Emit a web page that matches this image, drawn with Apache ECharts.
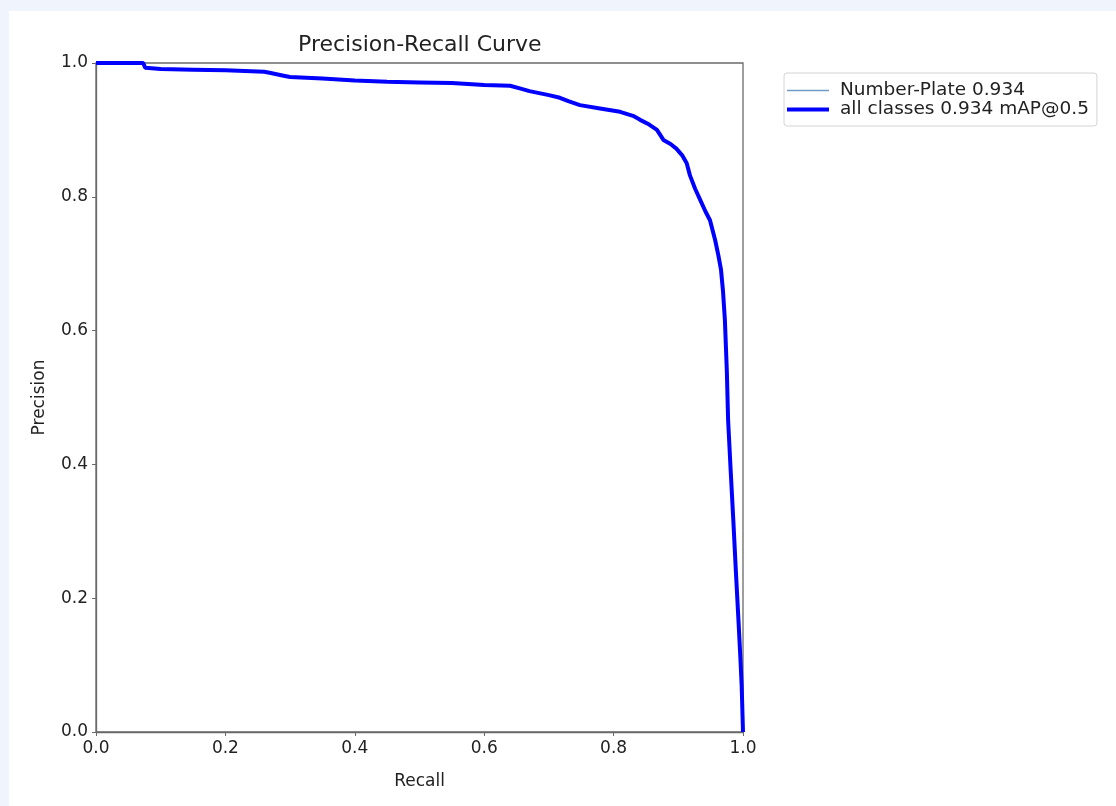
<!DOCTYPE html>
<html>
<head>
<meta charset="utf-8">
<script src="https://cdn.jsdelivr.net/npm/echarts@6/dist/echarts.min.js"></script>
<style>
html,body{margin:0;padding:0;background:#f0f4fd;width:1116px;height:806px;overflow:hidden;}
#c{position:absolute;left:9px;top:11px;width:1107px;height:795px;background:#ffffff;}
</style>
</head>
<body>
<div id="c"></div>
<script>
const titleText = 'Precision-Recall Curve';
const xName = 'Recall';
const yName = 'Precision';
const seriesNames = ['Number-Plate 0.934', 'all classes 0.934 mAP@0.5'];
const recall = [0, 0.073, 0.076, 0.1, 0.15, 0.2, 0.26, 0.27, 0.29, 0.3, 0.35, 0.4, 0.45, 0.5, 0.55, 0.6, 0.64, 0.655, 0.67, 0.70, 0.717, 0.73, 0.748, 0.779, 0.81, 0.83, 0.841, 0.855, 0.867, 0.877, 0.888, 0.897, 0.906, 0.913, 0.918, 0.926, 0.934, 0.942, 0.949, 0.957, 0.962, 0.966, 0.969, 0.972, 0.975, 0.977, 0.981, 0.985, 0.989, 0.993, 0.996, 0.998, 1.0];
const precision = [1.0, 1.0, 0.993, 0.991, 0.990, 0.989, 0.987, 0.985, 0.981, 0.979, 0.977, 0.974, 0.972, 0.971, 0.970, 0.967, 0.966, 0.962, 0.958, 0.952, 0.948, 0.943, 0.937, 0.932, 0.927, 0.921, 0.915, 0.908, 0.900, 0.885, 0.879, 0.872, 0.862, 0.850, 0.832, 0.812, 0.795, 0.778, 0.765, 0.735, 0.712, 0.691, 0.660, 0.616, 0.540, 0.466, 0.390, 0.317, 0.240, 0.167, 0.110, 0.068, 0.0];
const tickValues = [0, 0.2, 0.4, 0.6, 0.8, 1.0];

const pts = recall.map((r, i) => [r, precision[i]]);
const font = 'DejaVu Sans';
const chart = echarts.init(document.getElementById('c'));
chart.setOption({
  animation: false,
  backgroundColor: '#ffffff',
  textStyle: {fontFamily: font},
  title: {
    text: titleText, left: 284, top: 18,
    textStyle: {fontFamily: font, fontSize: 22, fontWeight: 'normal', color: '#222'}
  },
  legend: {
    orient: 'vertical', left: 775, top: 62,
    itemWidth: 42, itemHeight: 10, itemGap: 0,
    padding: [8, 8, 7, 3],
    borderColor: '#d4d4d4', borderWidth: 1, borderRadius: 3,
    symbolKeepAspect: true,
    textStyle: {fontFamily: font, fontSize: 18.5, lineHeight: 19, color: '#222', padding: [0, 0, 0, 6]},
    data: [
      {name: seriesNames[0], icon: 'path://M0,0h42v1.4h-42z', itemStyle: {color: '#6f9cc6'}},
      {name: seriesNames[1], icon: 'path://M0,0h42v4h-42z', itemStyle: {color: '#0000ff'}}
    ]
  },
  grid: {left: 87, top: 52, width: 647, height: 669, show: true, borderColor: '#6a6a6a', borderWidth: 1.3, containLabel: false},
  xAxis: {
    type: 'value', min: 0, max: 1, interval: 0.2,
    name: xName, nameLocation: 'middle', nameGap: 41,
    nameTextStyle: {fontFamily: font, fontSize: 17, color: '#222'},
    axisLine: {show: true, lineStyle: {color: '#6a6a6a', width: 1.3}},
    axisTick: {show: true, length: 4, lineStyle: {color: '#6a6a6a'}},
    axisLabel: {fontFamily: font, fontSize: 17, color: '#222', margin: 8, formatter: v => v.toFixed(1)},
    splitLine: {show: false}
  },
  yAxis: {
    type: 'value', min: 0, max: 1, interval: 0.2,
    name: yName, nameLocation: 'middle', nameGap: 48, nameRotate: 90,
    nameTextStyle: {fontFamily: font, fontSize: 17, color: '#222'},
    axisLine: {show: true, lineStyle: {color: '#6a6a6a', width: 1.3}},
    axisTick: {show: true, length: 4, lineStyle: {color: '#6a6a6a'}},
    axisLabel: {fontFamily: font, fontSize: 17, color: '#222', margin: 8, formatter: v => v.toFixed(1)},
    splitLine: {show: false}
  },
  series: [
    {name: seriesNames[0], type: 'line', data: pts, showSymbol: false, symbol: 'none', lineStyle: {color: '#1f77b4', width: 1}, itemStyle: {color: '#1f77b4'}},
    {name: seriesNames[1], type: 'line', data: pts, showSymbol: false, symbol: 'none', lineStyle: {color: '#0000ff', width: 4}, itemStyle: {color: '#0000ff'}}
  ]
});
</script>
</body>
</html>
